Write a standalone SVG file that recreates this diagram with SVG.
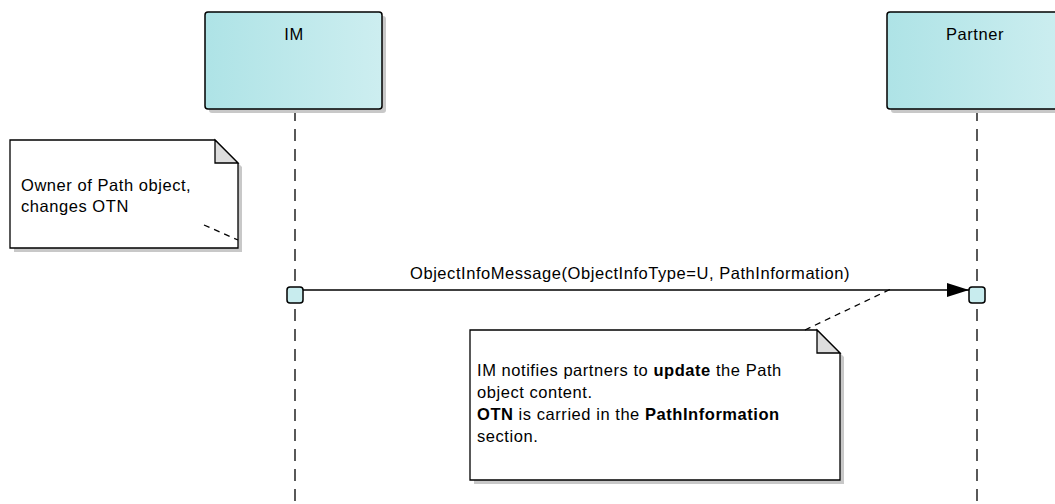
<svg xmlns="http://www.w3.org/2000/svg" width="1055" height="504" viewBox="0 0 1055 504">
<defs>
<linearGradient id="lg" x1="0" y1="0" x2="1" y2="0">
<stop offset="0" stop-color="#aee3e6"/>
<stop offset="1" stop-color="#cdeef0"/>
</linearGradient>
<marker id="arr" markerWidth="22" markerHeight="14" refX="22" refY="7" orient="auto" markerUnits="userSpaceOnUse">
<path d="M0,0 L22,7 L0,14 Z" fill="#000"/>
</marker>
<style>
.t{font-family:"Liberation Sans",Arial,sans-serif;font-size:16.5px;letter-spacing:0.55px;fill:#000}
.b{font-weight:bold}
.box{fill:url(#lg);stroke:#000;stroke-width:1.5}
.sh{fill:#c8c8c8}
.life{stroke:#000;stroke-width:1.3;stroke-dasharray:12,8;fill:none}
.act{fill:#c8ecee;stroke:#000;stroke-width:1.5}
.note{fill:#fff;stroke:#000;stroke-width:1.3}
.fold{fill:#ddd;stroke:#000;stroke-width:1.3}
.dl{stroke:#000;stroke-width:1.3;stroke-dasharray:6,5;fill:none}
</style>
</defs>
<rect width="1055" height="504" fill="#fff"/>
<g id="lifelines">
<line class="life" x1="295" y1="109" x2="295" y2="504"/>
<line class="life" x1="977" y1="109" x2="977" y2="504"/>
</g>
<g id="IM">
<rect class="sh" x="209" y="16" width="177" height="97" rx="3"/>
<rect class="box" x="205" y="12" width="177" height="97" rx="3"/>
<text class="t" x="294" y="40" text-anchor="middle">IM</text>
</g>
<g id="Partner">
<rect class="sh" x="891" y="16" width="180" height="97" rx="3"/>
<rect class="box" x="887" y="12" width="180" height="97" rx="3"/>
<text class="t" x="975" y="40" text-anchor="middle">Partner</text>
</g>
<g id="note1">
<path class="sh" d="M14,144 L219,144 L242,167 L242,252 L14,252 Z"/>
<path class="note" d="M10,140 L215,140 L238,163 L238,248 L10,248 Z"/>
<path class="fold" d="M215,140 L215,163 L238,163 Z"/>
<text class="t" x="21" y="191">Owner of Path object,</text>
<text class="t" x="21" y="212">changes OTN</text>
</g>
<g id="note2">
<path class="sh" d="M474,334 L821,334 L844,357 L844,484 L474,484 Z"/>
<path class="note" d="M470,330 L817,330 L840,353 L840,480 L470,480 Z"/>
<path class="fold" d="M817,330 L817,353 L840,353 Z"/>
<text class="t" x="477" y="376">IM notifies partners to <tspan class="b">update</tspan> the Path</text>
<text class="t" x="477" y="398">object content.</text>
<text class="t" x="477" y="420"><tspan class="b">OTN</tspan> is carried in the <tspan class="b">PathInformation</tspan></text>
<text class="t" x="477" y="442">section.</text>
</g>
<g id="activations">
<rect class="act" x="287" y="287" width="16" height="16" rx="3"/>
<rect class="act" x="969" y="287" width="16" height="16" rx="3"/>
</g>
<g id="connectors">
<line x1="303" y1="290" x2="969" y2="290" stroke="#000" stroke-width="1.5" marker-end="url(#arr)"/>
<text class="t" x="630" y="279" text-anchor="middle">ObjectInfoMessage(ObjectInfoType=U, PathInformation)</text>
<line class="dl" x1="805" y1="330" x2="893" y2="288"/>
<line class="dl" x1="204" y1="225" x2="238" y2="240"/>
</g>
</svg>
